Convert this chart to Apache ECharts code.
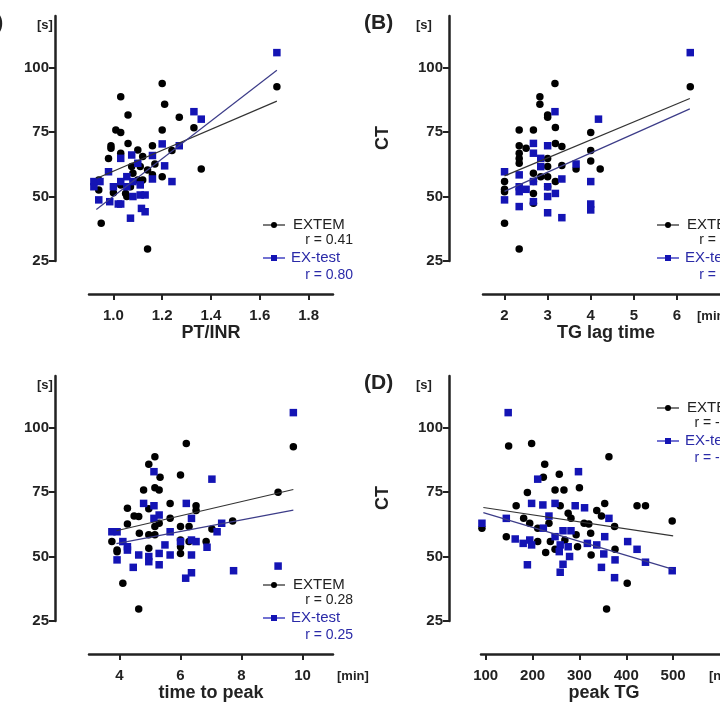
<!DOCTYPE html>
<html>
<head>
<meta charset="utf-8">
<script src="https://cdn.jsdelivr.net/npm/echarts@6/dist/echarts.min.js"></script>
<style>html,body{margin:0;padding:0;background:#fff}#c{width:720px;height:720px}</style>
</head>
<body>
<div id="c"></div>
<script>
// panel A: PT/INR vs CT
var a_extem = [[1.67,92.6],[1.20,93.8],[1.03,88.7],[1.21,85.8],[1.06,81.6],[1.27,80.7],[1.33,76.7],[1.01,75.8],[1.03,74.8],[1.20,75.8],[1.06,70.6],[0.99,69.7],[0.99,68.7],[1.16,69.7],[1.24,67.8],[1.03,66.8],[1.10,68],[0.98,64.7],[1.12,65.5],[1.17,62.6],[1.36,60.7],[1.20,57.7],[1.16,58.4],[1.11,61.6],[1.14,60.3],[1.08,59],[1.10,56.4],[1.07,53.8],[1.05,51.2],[1.00,51.5],[0.94,52.5],[0.94,56.4],[1.03,54.5],[0.95,39.6],[1.14,29.7],[1.12,56.4],[1.075,61.6],[1.055,50]];
var a_extest = [[1.67,105.8],[1.33,82.9],[1.36,80],[1.27,69.7],[1.20,70.4],[1.16,65.9],[1.21,61.9],[1.24,55.8],[1.16,56.8],[0.98,59.6],[1.03,64.8],[1.075,66.1],[1.10,62.9],[0.92,55.8],[0.945,55.8],[0.92,53.8],[0.94,48.7],[1.00,53.8],[0.985,48],[1.02,47.1],[1.03,47.1],[1.07,41.6],[1.11,50.6],[1.13,50.6],[1.115,45.4],[1.13,44.1],[1.08,50],[1.055,57.7],[1.08,55.8],[1.11,54.5],[1.055,53.8],[1.03,55.8]];
var a_fit_extem = [[0.93,57],[1.67,87]];
var a_fit_extest = [[0.93,45],[1.67,99]];

// panel B: TG lag time vs CT
var b_extem = [[6.31,92.6],[3.17,93.8],[2.82,88.7],[2.82,85.8],[3.0,81.6],[3.0,80.7],[3.18,76.8],[2.34,75.8],[2.67,75.8],[4.0,74.8],[3.18,70.6],[2.34,69.7],[2.5,68.7],[3.33,69.4],[4.0,67.8],[2.34,66.8],[2.34,64.7],[3.0,64.7],[4.0,63.8],[3.33,62],[3.66,60.7],[4.22,60.7],[2.0,55.8],[2.0,52.8],[2.0,51.9],[2.67,59],[2.67,55.8],[2.84,57.7],[3.0,61.6],[3.0,53.8],[3.18,55.8],[2.34,62.9],[2.67,51.2],[2.0,39.6],[2.34,29.7],[3.0,57.7],[2.67,47.4]];
var b_extest = [[6.31,105.8],[3.17,82.9],[4.18,80],[2.67,70.6],[3.0,69.7],[2.67,66.8],[2.84,64.8],[3.66,62.6],[2.0,59.6],[2.34,58.4],[2.34,53.8],[2.5,52.8],[2.34,51.9],[2.0,48.7],[2.34,46.1],[2.67,48],[3.0,50],[3.18,51.2],[3.0,43.7],[3.33,41.8],[4.0,55.8],[4.0,47.1],[4.0,44.8],[3.33,56.8],[2.84,61.6],[3.0,53.8],[2.67,55.8]];
var b_fit_extem = [[2.0,58],[6.3,88]];
var b_fit_extest = [[2.0,52],[6.3,84]];

// panel C: time to peak vs CT
var c_extem = [[9.7,92.6],[6.19,93.8],[5.16,88.7],[4.96,85.8],[6.0,81.6],[5.33,80.7],[5.16,76.7],[5.30,75.8],[4.79,75.8],[9.2,74.9],[5.66,70.6],[6.51,69.7],[4.26,68.7],[4.96,68.5],[6.51,67.8],[4.48,65.7],[4.63,65.5],[5.66,64.8],[7.71,63.8],[4.26,62.6],[5.30,62.9],[5.16,61.6],[6.0,61.6],[6.28,61.6],[7.03,60.7],[4.65,59],[4.96,58.4],[5.16,58.4],[3.75,55.8],[3.92,52.5],[3.92,51.9],[6.0,56.4],[6.0,51.2],[6.28,55.8],[6.84,55.8],[4.96,53.2],[4.11,39.6],[4.63,29.7],[6.0,53.8]];
var c_extest = [[9.7,105.8],[5.13,82.9],[7.03,80],[4.79,70.6],[6.19,70.6],[5.13,69.7],[5.30,66.1],[5.13,64.8],[6.36,64.8],[3.75,59.6],[3.92,59.6],[5.66,59.6],[7.35,62.9],[7.2,59.6],[4.11,55.8],[4.26,53.8],[4.26,52.5],[3.92,48.7],[4.45,45.8],[4.63,50.6],[4.96,50],[4.96,48],[5.30,51.2],[5.30,46.8],[5.66,50.6],[5.49,54.5],[6.0,55.8],[6.36,56.4],[6.51,55.8],[6.36,50.6],[6.17,41.6],[6.36,43.7],[6.87,53.6],[7.74,44.5],[9.2,46.3]];
var c_fit_extem = [[3.9,60],[9.7,76]];
var c_fit_extest = [[3.9,55],[9.7,68]];

// panel D: peak TG vs CT
var d_extem = [[149,92.9],[198,93.8],[363,88.7],[226,85.8],[223,80.7],[257,81.9],[189,74.8],[248,75.8],[267,75.8],[300,76.7],[354,70.6],[165,69.7],[423,69.7],[441,69.7],[259,69.7],[337,67.8],[347,65.7],[276,66.8],[282,64.8],[181,64.8],[498,63.8],[194,62.9],[310,62.9],[320,62.6],[235,62.9],[375,61.6],[211,61],[324,59],[293,58.4],[144,57.7],[92,61],[211,55.8],[238,55.8],[248,52.8],[228,51.6],[296,53.8],[325,50.6],[376,52.8],[402,39.6],[358,29.7],[269,56.4]];
var d_extest = [[148,105.8],[298,82.9],[211,80],[198,70.6],[222,70],[248,70.6],[291,69.7],[311,68.9],[235,65.7],[363,64.8],[144,64.8],[92,62.9],[223,61],[265,60],[282,60],[354,57.7],[163,56.8],[180,55.1],[194,56.4],[198,54.5],[248,57.7],[259,54.5],[276,53.8],[317,55.1],[337,54.5],[403,55.8],[423,52.8],[257,51.9],[279,50],[352,51],[376,48.7],[441,47.8],[498,44.5],[189,46.8],[347,45.8],[265,47],[259,43.9],[375,41.8]];
var d_fit_extem = [[95,69],[500,58]];
var d_fit_extest = [[95,67],[500,45]];

var yTicks = [25, 50, 75, 100];
var panels = [
  {x: a_extem, b: a_extest, fx: a_fit_extem, fb: a_fit_extest, min: 0.9, max: 1.9, ticks: [1.0,1.2,1.4,1.6,1.8], fmt: function(v){return v.toFixed(1);}},
  {x: b_extem, b: b_extest, fx: b_fit_extem, fb: b_fit_extest, min: 1.5, max: 7, ticks: [2,3,4,5,6]},
  {x: c_extem, b: c_extest, fx: c_fit_extem, fb: c_fit_extest, min: 3, max: 11, ticks: [4,6,8,10]},
  {x: d_extem, b: d_extest, fx: d_fit_extem, fb: d_fit_extest, min: 90, max: 600, ticks: [100,200,300,400,500]}
];
var grids = [
  {left: 89, top: 16, width: 244, height: 245},
  {left: 483, top: 16, width: 251, height: 245},
  {left: 89, top: 376, width: 244, height: 245},
  {left: 481, top: 376, width: 252, height: 245}
];
var blue = '#1414b4';
var tickFont = {color: '#222', fontSize: 15, fontWeight: 'bold', fontFamily: 'Liberation Sans'};

var xAxes = [], yAxes = [], series = [];
panels.forEach(function(p, i) {
  xAxes.push({
    type: 'value', gridIndex: i, min: p.min, max: p.max, offset: 33,
    splitLine: {show: false},
    axisLine: {lineStyle: {color: '#222', width: 2.5}},
    axisTick: {length: 6, lineStyle: {width: 2, color: '#222'}, customValues: p.ticks},
    axisLabel: Object.assign({customValues: p.ticks, margin: 14, formatter: p.fmt}, tickFont)
  });
  yAxes.push({
    type: 'value', gridIndex: i, min: 25, max: 120, offset: i == 3 ? 32 : 34,
    splitLine: {show: false},
    axisLine: {show: true, lineStyle: {color: '#222', width: 2.5}},
    axisTick: {show: true, length: 6, lineStyle: {width: 2, color: '#222'}, customValues: yTicks},
    axisLabel: Object.assign({customValues: yTicks, margin: 6}, tickFont)
  });
  series.push({type: 'scatter', xAxisIndex: i, yAxisIndex: i, data: p.x, symbol: 'circle', symbolSize: 7.5, itemStyle: {color: '#000', opacity: 1}, z: 3});
  series.push({type: 'scatter', xAxisIndex: i, yAxisIndex: i, data: p.b, symbol: 'rect', symbolSize: 7.5, itemStyle: {color: blue, opacity: 1}, z: 4});
  series.push({type: 'line', xAxisIndex: i, yAxisIndex: i, data: p.fx, symbol: 'none', lineStyle: {color: '#333', width: 1.2}, z: 5});
  series.push({type: 'line', xAxisIndex: i, yAxisIndex: i, data: p.fb, symbol: 'none', lineStyle: {color: '#3c3c88', width: 1.2}, z: 5});
});

function txt(x, y, s, opt) {
  return {type: 'text', x: x, y: y, style: Object.assign({text: s, fill: '#222', font: '14px "Liberation Sans"', textVerticalAlign: 'middle'}, opt || {})};
}
function legend(x, y, r1, r2) {
  return [
    {type: 'line', shape: {x1: x, y1: y, x2: x + 22, y2: y}, style: {stroke: '#222', lineWidth: 1.2}},
    {type: 'circle', shape: {cx: x + 11, cy: y, r: 3}, style: {fill: '#000'}},
    txt(x + 30, y, 'EXTEM', {fill: '#222', font: '15px "Liberation Sans"'}),
    txt(x + 90, y + 15, r1, {textAlign: 'right'}),
    {type: 'line', shape: {x1: x, y1: y + 33, x2: x + 22, y2: y + 33}, style: {stroke: blue, lineWidth: 1.2}},
    {type: 'rect', shape: {x: x + 8, y: y + 30, width: 6, height: 6}, style: {fill: blue}},
    txt(x + 28, y + 33, 'EX-test', {fill: '#2a2aa8', font: '15px "Liberation Sans"'}),
    txt(x + 90, y + 50, r2, {textAlign: 'right', fill: '#2a2aa8'})
  ];
}
var bold = function(sz){ return 'bold ' + sz + 'px "Liberation Sans"'; };
var g = [];
g = g.concat(legend(263, 225, 'r = 0.41', 'r = 0.80'));
g = g.concat(legend(657, 225, 'r = 0.43', 'r = 0.45'));
g = g.concat(legend(263, 585, 'r = 0.28', 'r = 0.25'));
g = g.concat(legend(657, 408, 'r = -0.20', 'r = -0.38'));
g.push(txt(211, 333, 'PT/INR', {font: bold(18), textAlign: 'center'}));
g.push(txt(606, 333, 'TG lag time', {font: bold(18), textAlign: 'center'}));
g.push(txt(211, 693, 'time to peak', {font: bold(18), textAlign: 'center'}));
g.push(txt(604, 693, 'peak TG', {font: bold(18), textAlign: 'center'}));
g.push(txt(37, 25, '[s]', {font: bold(13)}));
g.push(txt(416, 25, '[s]', {font: bold(13)}));
g.push(txt(37, 385, '[s]', {font: bold(13)}));
g.push(txt(416, 385, '[s]', {font: bold(13)}));
g.push(txt(364, 23, '(B)', {font: bold(21)}));
g.push(txt(364, 383, '(D)', {font: bold(21)}));
g.push(txt(-26, 23, '(A)', {font: bold(21)}));
g.push(txt(337, 676, '[min]', {font: bold(13)}));
g.push(txt(697, 316, '[min]', {font: bold(13)}));
g.push(txt(709, 676, '[nM]', {font: bold(13)}));
g.push({type: 'text', x: 383, y: 138, rotation: Math.PI / 2, style: {text: 'CT', font: bold(18), fill: '#222', textAlign: 'center', textVerticalAlign: 'middle'}});
g.push({type: 'text', x: 383, y: 498, rotation: Math.PI / 2, style: {text: 'CT', font: bold(18), fill: '#222', textAlign: 'center', textVerticalAlign: 'middle'}});

var chart = echarts.init(document.getElementById('c'));
chart.setOption({
  animation: false,
  grid: grids,
  xAxis: xAxes,
  yAxis: yAxes,
  series: series,
  graphic: g
});
</script>
</body>
</html>
